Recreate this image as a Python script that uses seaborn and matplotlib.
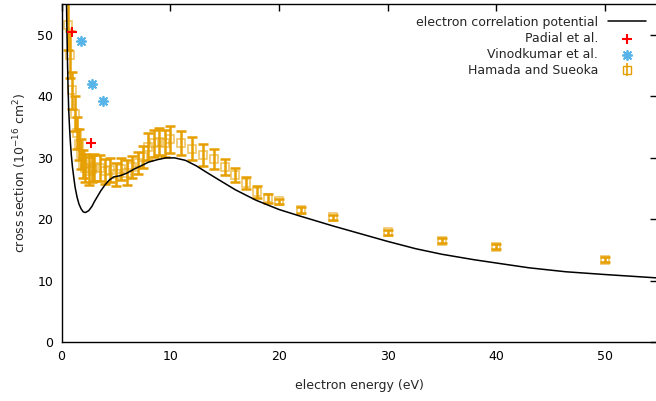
import matplotlib
matplotlib.use("Agg")
import matplotlib.pyplot as plt
import seaborn as sns
import pandas as pd

# ---- data ----
curve_e = [0.45, 0.5, 0.55, 0.6, 0.66, 0.75, 0.82, 0.9, 1.0, 1.12, 1.25, 1.43, 1.6, 1.8,
           2.0, 2.2, 2.5, 2.8, 3.0, 3.3, 3.6, 4.0, 4.4, 4.8, 5.4, 6.0, 6.7, 7.2, 8.0,
           8.8, 9.6, 10.4, 11.4, 12.4, 13.3, 14.5, 16.0, 17.9, 20.0, 21.8, 25.0, 28.0,
           30.0, 32.6, 35.0, 38.0, 40.3, 43.0, 46.4, 50.0, 54.8]
curve_cs = [56.0, 50.5, 45.5, 41.5, 37.8, 34.5, 32.4, 30.5, 28.6, 26.9, 25.2, 23.6, 22.5, 21.7,
            21.2, 21.1, 21.4, 22.1, 22.8, 23.7, 24.6, 25.6, 26.4, 26.9, 27.1, 27.5, 28.2, 28.6, 29.3,
            29.7, 30.0, 30.0, 29.6, 28.7, 27.7, 26.4, 24.8, 23.1, 21.6, 20.6, 18.9, 17.4,
            16.4, 15.2, 14.3, 13.4, 12.8, 12.1, 11.45, 11.0, 10.45]

padial_e = [0.95, 2.75]
padial_cs = [50.5, 32.5]

vinod_e = [1.8, 2.8, 3.8]
vinod_cs = [49.0, 42.0, 39.3]

hamada_e = [0.6, 0.8, 1.0, 1.2, 1.4, 1.6, 1.8, 2.0, 2.2, 2.5, 2.8, 3.0, 3.5, 4.0, 4.5,
            5.0, 5.5, 6.0, 6.5, 7.0, 7.5, 8.0, 8.5, 9.0, 9.5, 10, 11, 12, 13, 14, 15,
            16, 17, 18, 19, 20, 22, 25, 30, 35, 40, 50]
hamada_cs = [51.6, 46.8, 41.0, 37.2, 34.0, 32.2, 30.6, 29.0, 28.3, 27.9, 28.2, 28.5, 28.3,
             27.8, 28.0, 27.3, 28.2, 27.6, 28.5, 29.2, 30.2, 31.8, 32.4, 32.6, 32.4, 33.0,
             32.4, 31.5, 30.4, 29.8, 28.5, 27.2, 25.9, 24.5, 23.4, 22.9, 21.5, 20.3, 17.9,
             16.5, 15.5, 13.4]
hamada_err = [4.0, 3.8, 3.0, 2.8, 2.6, 2.5, 2.4, 2.3, 2.3, 2.3, 2.2, 2.2, 2.1, 2.0, 2.0,
              1.8, 1.8, 2.0, 1.8, 1.8, 1.8, 2.2, 2.2, 2.2, 2.2, 2.2, 2.0, 1.9, 1.8, 1.6, 1.3,
              1.2, 1.0, 1.0, 0.7, 0.4, 0.5, 0.4, 0.4, 0.4, 0.4, 0.4]

xlabel = "electron energy (eV)"
ylabel = r"cross section (10$^{-16}$ cm$^2$)"

sns.set_style("white")
plt.rcParams["font.family"] = ["DejaVu Sans"]
plt.rcParams["mathtext.default"] = "regular"

fig = plt.figure(figsize=(6.56, 4.01), dpi=100)
ax = fig.add_axes([0.0938, 0.147, 0.9078, 0.842])

ORANGE = "#e69f00"
BLUE = "#56b4e9"
RED = "#ff0000"

df_curve = pd.DataFrame({"e": curve_e, "cs": curve_cs})
sns.lineplot(data=df_curve, x="e", y="cs", ax=ax, color="black", linewidth=1.1,
             label="electron correlation potential", sort=False, zorder=3)

df_p = pd.DataFrame({"e": padial_e, "cs": padial_cs})
sns.scatterplot(data=df_p, x="e", y="cs", ax=ax, marker="+", color=RED, s=45,
                linewidth=1.5, label="Padial et al.", zorder=4)

df_v = pd.DataFrame({"e": vinod_e, "cs": vinod_cs})
sns.scatterplot(data=df_v, x="e", y="cs", ax=ax, marker=(8, 2, 0), color=BLUE,
                edgecolor=BLUE, s=45, linewidth=1.3, label="Vinodkumar et al.", zorder=4)

ax.errorbar(hamada_e, hamada_cs, yerr=hamada_err, fmt="none", ecolor=ORANGE,
            elinewidth=1.8, capsize=3.8, capthick=1.8, zorder=2)
ax.plot(hamada_e, hamada_cs, linestyle="none", marker="s", markersize=6,
        markerfacecolor="none", markeredgecolor=ORANGE, markeredgewidth=1.2,
        alpha=0.6, zorder=2)
h_ham = ax.errorbar([], [], yerr=[], fmt="s", color=ORANGE, markersize=6,
                    markerfacecolor="none", elinewidth=1.2, capsize=3)

ax.set_xlim(0, 54.8)
ax.set_ylim(0, 55)
ax.set_xticks([0, 10, 20, 30, 40, 50])
ax.set_yticks([0, 10, 20, 30, 40, 50])
ax.tick_params(direction="in", length=5, width=1.0, top=True, right=True,
               labelsize=9, pad=6, colors="black")
for s in ax.spines.values():
    s.set_visible(True)
    s.set_color("black")
    s.set_linewidth(1.0)
ax.set_xlabel(xlabel, fontsize=9, labelpad=11)
ax.set_ylabel(ylabel, fontsize=9, labelpad=6)

handles, labels = ax.get_legend_handles_labels()
handles = handles[:3] + [h_ham]
labels = labels[:3] + ["Hamada and Sueoka"]
leg = ax.legend(handles, labels, loc="upper right", markerfirst=False, frameon=False,
                fontsize=9, handlelength=3.0, handletextpad=0.8, labelspacing=0.25,
                borderaxespad=0.5)

fig.savefig("out.png", dpi=100)
